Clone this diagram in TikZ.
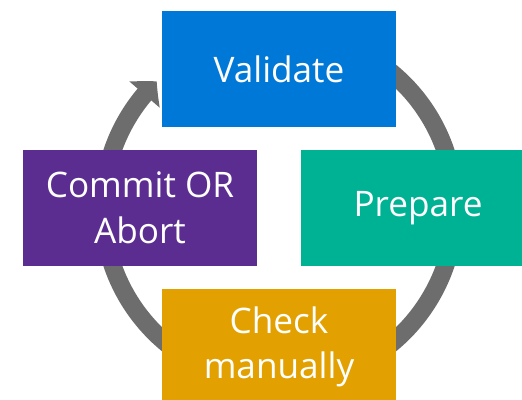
\documentclass[tikz,border=0pt]{standalone}
\usepackage{fontspec}
\setmainfont{Open Sans}
\usepackage{tikz}
\usetikzlibrary{positioning, arrows.meta, bending, backgrounds}
\definecolor{validateBlue}{RGB}{0,120,215}
\definecolor{prepareTeal}{RGB}{0,178,148}
\definecolor{checkGold}{RGB}{226,161,0}
\definecolor{commitPurple}{RGB}{92,45,145}
\definecolor{ringGray}{RGB}{109,109,109}
\tikzstyle{stage} = [rectangle, minimum width=4.68cm, minimum height=2.32cm, inner sep=0pt, text centered, align=center, text=white, font=\fontsize{20}{26}\selectfont]
\tikzstyle{ring} = [line width=0.36cm, draw=ringGray, -{Triangle[length=0.36cm, width=0.78cm, bend]}]

\begin{document}
\begin{tikzpicture}[node distance=2.78cm]
\useasboundingbox (0,0) rectangle (10.44,8);
%----------------------------------------------------------------------------
% Placement of the four stages round the hub
\coordinate (hub) at (5.58,3.84);
\node (validate) [stage, fill=validateBlue, above of=hub] {Validate};
\node (prepare) [stage, fill=prepareTeal, right of=hub] {Prepare};
\node (check) [stage, fill=checkGold, below of=hub] {Check\\manually};
\node (commit) [stage, fill=commitPurple, left of=hub] {Commit OR\\Abort};

%----------------------------------------------------------------------------
% Draw the cycle behind the stages
\begin{scope}[on background layer]
\draw [ring] ([shift={(60:3.52)}]hub) arc [start angle=60, end angle=-226, radius=3.52];
\end{scope}

\end{tikzpicture}
\end{document}
